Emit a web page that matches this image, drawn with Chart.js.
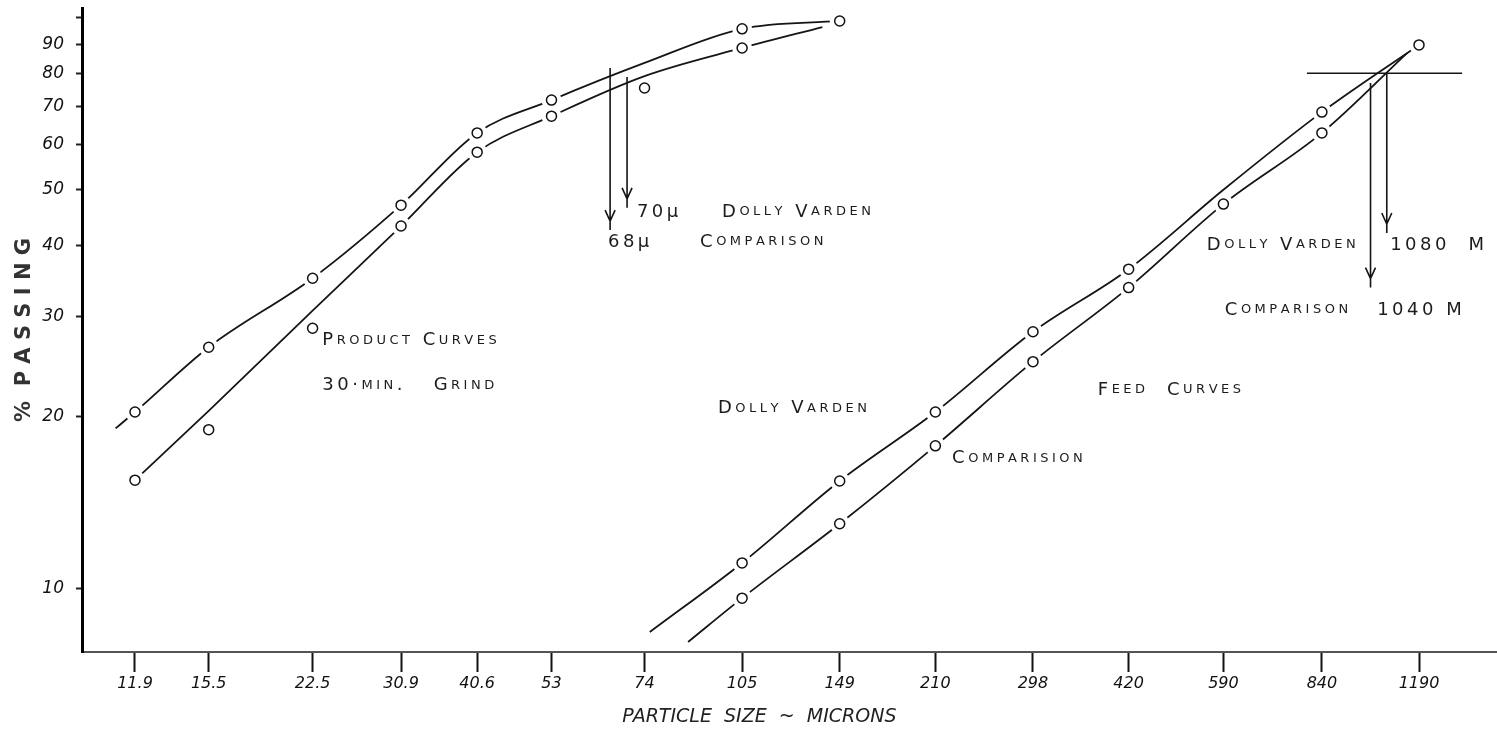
<!DOCTYPE html>
<html lang="en">
<head>
<meta charset="UTF-8">
<title>Particle size - % passing</title>
<script src="https://cdn.jsdelivr.net/npm/chart.js"></script>
<style>
    body { margin: 0; background: #fff; }
    #chart { display: block; }
</style>
</head>
<body>
<canvas id="chart" width="1497" height="734"></canvas>
<script>
// axes (log / log)
const sieveSizes  = [11.9, 15.5, 22.5, 30.9, 40.6, 53, 74, 105, 149, 210, 298, 420, 590, 840, 1190];
const sieveLabels = ['11.9', '15.5', '22.5', '30.9', '40.6', '53', '74', '105', '149', '210', '298', '420', '590', '840', '1190'];
const passTicks  = [10, 20, 30, 40, 50, 60, 70, 80, 90, 100];
const passLabels = ['10', '20', '30', '40', '50', '60', '70', '80', '90', ''];

// product curves, 30 min grind - measured points
const prodCompSizes = [11.9, 15.5, 22.5, 30.9, 40.6, 53, 105, 149];
const prodCompPass  = [20.4, 26.5, 35.0, 47.0, 62.9, 71.8, 95.7, 98.8];
const prodDvSizes   = [11.9, 15.5, 22.5, 30.9, 40.6, 53, 105];
const prodDvPass    = [15.5, 19.0, 28.6, 43.2, 58.2, 67.3, 88.6];
const prodStraySize = [74];
const prodStrayPass = [75.4];
// product curves - drawn lines
const prodCompLineSizes = [11.1, 11.9, 15.5, 22.5, 30.9, 40.6, 53, 74, 105, 149];
const prodCompLinePass  = [19.1, 20.4, 26.5, 35.0, 47.0, 62.9, 71.8, 83.4, 95.7, 98.8];
const prodDvLineSizes   = [11.9, 15.5, 22.5, 30.9, 40.6, 53, 74, 105, 140];
const prodDvLinePass    = [15.5, 20.5, 30.7, 43.2, 58.2, 67.3, 79.1, 88.6, 96.4];

// feed curves - measured points
const feedDvSizes   = [105, 149, 210, 298, 420, 840, 1190];
const feedDvPass    = [11.1, 15.45, 20.4, 28.2, 36.3, 68.4, 89.7];
const feedCompSizes = [105, 149, 210, 298, 420, 590, 840];
const feedCompPass  = [9.63, 13.0, 17.8, 25.0, 33.7, 47.2, 62.9];
// feed curves - drawn lines
const feedDvLineSizes   = [75.4, 105, 149, 210, 298, 420, 590, 840, 1190];
const feedDvLinePass    = [8.4, 11.1, 15.45, 20.4, 28.2, 36.3, 50.0, 68.4, 89.7];
const feedCompLineSizes = [86.5, 105, 149, 210, 298, 420, 590, 840, 1140];
const feedCompLinePass  = [8.07, 9.63, 13.0, 17.8, 25.0, 33.7, 47.2, 62.9, 86.8];

// 80 % passing line and arrows
const p80Level = 80;
const p80From = 796, p80To = 1389;
const arrowSizes = [65.4, 69.5, 1000, 1060];
const arrowTop   = [81.7, 78.8, 76.9, 80.1];
const arrowTip   = [42.5, 46.5, 33.7, 42.0];

// hand lettering
const noteText  = ['Product Curves', '30·min.   Grind', '70µ', 'Dolly Varden', '68µ', 'Comparison',
                   'Dolly Varden', 'Comparision', 'Feed  Curves', 'Dolly Varden', '1080  M', 'Comparison', '1040 M'];
const noteSizes = [23.3, 23.3, 72.0, 97.7, 64.9, 90.3, 96.3, 223, 376, 556, 1073, 593, 1024];
const notePass  = [27.2, 22.7, 45.7, 45.7, 40.5, 40.5, 20.7, 16.9, 22.3, 40.0, 40.0, 30.8, 30.8];

const pts = (xs, ys) => xs.map((v, i) => ({ x: v, y: ys[i] }));

function lineSet(xs, ys) {
    return {
        data: pts(xs, ys), showLine: true, pointRadius: 0,
        borderColor: '#151515', borderWidth: 1.8, cubicInterpolationMode: 'monotone', order: 3
    };
}
// white ring that opens a small gap in the line round each circle
function haloSet(xs, ys) {
    return {
        data: pts(xs, ys), showLine: false, pointRadius: 10, pointBorderWidth: 0,
        pointBackgroundColor: '#fff', pointBorderColor: '#fff', order: 2
    };
}
function dotSet(xs, ys) {
    return {
        data: pts(xs, ys), showLine: false, pointRadius: 5, pointBorderWidth: 1.5,
        pointBackgroundColor: '#fff', pointBorderColor: '#111', order: 1
    };
}

function drawCaps(ctx, str, x, y, big, small, gap) {
    let cx = x;
    for (const ch of str) {
        const lower = /[a-z]/.test(ch);
        ctx.font = (lower ? small : big) + "px 'DejaVu Sans'";
        const c = lower ? ch.toUpperCase() : ch;
        ctx.fillText(c, cx, y);
        cx += ctx.measureText(c).width + gap;
    }
}

const overlay = {
    id: 'overlay',
    afterDatasetsDraw(chart) {
        const { ctx, scales: { x, y } } = chart;
        ctx.save();
        ctx.strokeStyle = '#151515';
        ctx.lineWidth = 1.6;
        // 80% line
        ctx.beginPath();
        ctx.moveTo(x.getPixelForValue(p80From), y.getPixelForValue(p80Level));
        ctx.lineTo(x.getPixelForValue(p80To), y.getPixelForValue(p80Level));
        ctx.stroke();
        // arrows
        arrowSizes.forEach((v, i) => {
            const px = x.getPixelForValue(v);
            const top = y.getPixelForValue(arrowTop[i]);
            const tip = y.getPixelForValue(arrowTip[i]);
            ctx.beginPath();
            ctx.moveTo(px, top);
            ctx.lineTo(px, tip);
            ctx.moveTo(px - 5, tip - 20);
            ctx.lineTo(px, tip - 9);
            ctx.lineTo(px + 5, tip - 20);
            ctx.stroke();
        });
        // notes
        ctx.fillStyle = '#1c1c1c';
        ctx.textBaseline = 'middle';
        noteText.forEach((t, i) => {
            drawCaps(ctx, t, x.getPixelForValue(noteSizes[i]), y.getPixelForValue(notePass[i]), 18, 13, 3.5);
        });
        ctx.restore();
    }
};

new Chart(document.getElementById('chart'), {
    type: 'line',
    data: {
        datasets: [
            lineSet(prodCompLineSizes, prodCompLinePass),
            lineSet(prodDvLineSizes, prodDvLinePass),
            lineSet(feedDvLineSizes, feedDvLinePass),
            lineSet(feedCompLineSizes, feedCompLinePass),
            haloSet(prodCompSizes, prodCompPass),
            haloSet(prodDvSizes, prodDvPass),
            haloSet(feedDvSizes, feedDvPass),
            haloSet(feedCompSizes, feedCompPass),
            dotSet(prodCompSizes, prodCompPass),
            dotSet(prodDvSizes, prodDvPass),
            dotSet(prodStraySize, prodStrayPass),
            dotSet(feedDvSizes, feedDvPass),
            dotSet(feedCompSizes, feedCompPass)
        ]
    },
    options: {
        responsive: false,
        animation: false,
        layout: { autoPadding: false, padding: { top: 8, right: 0, left: 0, bottom: 0 } },
        plugins: { legend: { display: false }, tooltip: { enabled: false } },
        scales: {
            x: {
                type: 'logarithmic',
                min: 9.84,
                max: 1574,
                afterBuildTicks: s => { s.ticks = sieveSizes.map(v => ({ value: v })); },
                afterFit: s => { s.height = 82; s.paddingLeft = 0; s.paddingRight = 0; },
                ticks: {
                    autoSkip: false, maxRotation: 0, padding: 2, color: '#111',
                    font: { family: 'DejaVu Sans', size: 16, style: 'italic' },
                    callback: (v, i) => sieveLabels[i]
                },
                grid: { drawOnChartArea: false, tickLength: 20, tickWidth: 2, tickColor: '#111' },
                border: { display: true, color: '#555', width: 2, dash: [3, 1] },
                title: {
                    display: true, text: 'PARTICLE  SIZE  ~  MICRONS          ', color: '#222',
                    font: { family: 'DejaVu Sans', size: 19, style: 'italic' },
                    padding: { top: 0, bottom: 6 }
                }
            },
            y: {
                type: 'logarithmic',
                min: 7.75,
                max: 104.1,
                afterBuildTicks: s => { s.ticks = passTicks.map(v => ({ value: v })); },
                afterFit: s => { s.width = 82; s.paddingTop = 0; s.paddingBottom = 0; },
                ticks: {
                    autoSkip: false, padding: 12, color: '#111',
                    font: { family: 'DejaVu Sans', size: 17, style: 'italic' },
                    callback: (v, i) => passLabels[i]
                },
                grid: { drawOnChartArea: false, tickLength: 6, tickWidth: 2, tickColor: '#222' },
                border: { display: true, color: '#000', width: 3 },
                title: {
                    display: true, text: '%  P A S S I N G', color: '#333',
                    font: { family: 'DejaVu Sans', size: 21, weight: 'bold' },
                    padding: { top: 12, bottom: 0 }
                }
            }
        }
    },
    plugins: [overlay]
});
</script>
</body>
</html>
